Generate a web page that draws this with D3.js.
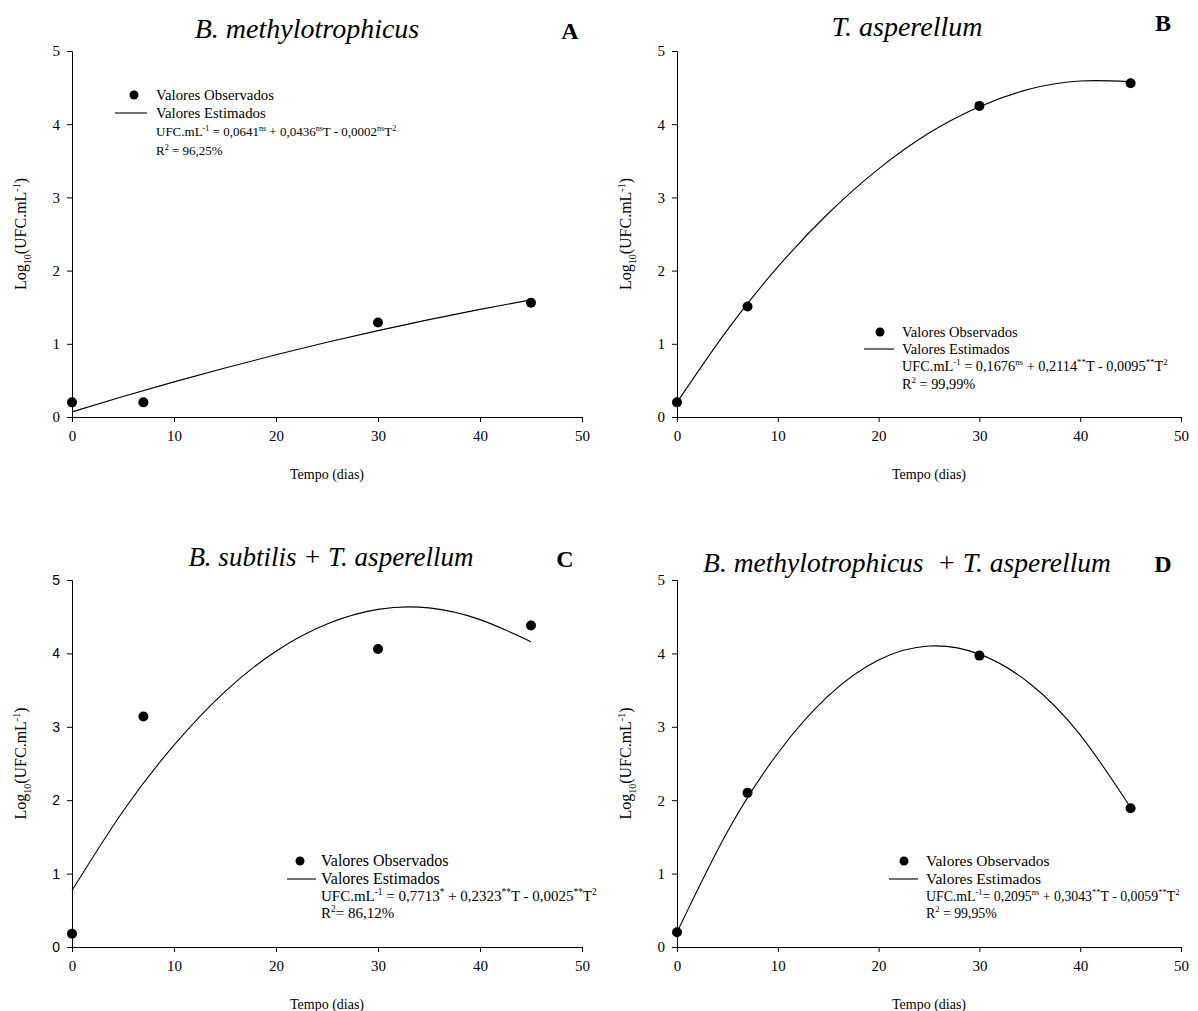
<!DOCTYPE html>
<html>
<head>
<meta charset="utf-8">
<script src="https://cdn.jsdelivr.net/npm/d3@7"></script>
<style>
  body { margin: 0; background: #fff; }
  svg { display: block; font-family: "Liberation Serif", "Times New Roman", serif; }
</style>
</head>
<body>
<svg id="chart" width="1198" height="1011"></svg>
<script>
// data
var xTicks = [0, 10, 20, 30, 40, 50];
var yTicks = [0, 1, 2, 3, 4, 5];
var tempo = [0, 7, 30, 45];
var obsA = [0.20, 0.20, 1.29, 1.56];
var obsB = [0.20, 1.51, 4.25, 4.56];
var obsC = [0.18, 3.14, 4.06, 4.38];
var obsD = [0.20, 2.10, 3.97, 1.89];
var curveT = [0, 5, 10, 15, 20, 25, 30, 35, 40, 45];
var estA = [0.07, 0.28, 0.48, 0.67, 0.85, 1.02, 1.18, 1.33, 1.47, 1.60];
var estB = [0.20, 1.19, 2.05, 2.78, 3.39, 3.88, 4.24, 4.48, 4.59, 4.58];
var estC = [0.77, 1.85, 2.75, 3.48, 4.03, 4.40, 4.60, 4.62, 4.46, 4.16];
var estD = [0.20, 1.57, 2.64, 3.42, 3.91, 4.10, 3.99, 3.59, 2.89, 1.90];
var titles = ["B. methylotrophicus", "T. asperellum", "B. subtilis + T. asperellum", "B. methylotrophicus  + T. asperellum"];
var letters = ["A", "B", "C", "D"];
var equations = [
  [["UFC.mL"], ["-1", "sup"], [" = 0,0641"], ["ns", "sup"], [" + 0,0436"], ["ns", "sup"], ["T - 0,0002"], ["ns", "sup"], ["T"], ["2", "sup"]],
  [["UFC.mL"], ["-1", "sup"], [" = 0,1676"], ["ns", "sup"], [" + 0,2114"], ["**", "sup"], ["T - 0,0095"], ["**", "sup"], ["T"], ["2", "sup"]],
  [["UFC.mL"], ["-1", "sup"], [" = 0,7713"], ["*", "sup"], [" + 0,2323"], ["**", "sup"], ["T - 0,0025"], ["**", "sup"], ["T"], ["2", "sup"]],
  [["UFC.mL"], ["-1", "sup"], ["= 0,2095"], ["ns", "sup"], [" + 0,3043"], ["**", "sup"], ["T - 0,0059"], ["**", "sup"], ["T"], ["2", "sup"]]
];
var r2Labels = [
  [["R"], ["2", "sup"], [" = 96,25%"]],
  [["R"], ["2", "sup"], [" = 99,99%"]],
  [["R"], ["2", "sup"], ["= 86,12%"]],
  [["R"], ["2", "sup"], [" = 99,95%"]]
];

var svg = d3.select("#chart");

// layout of the four panels
var panels = [
  { obs: obsA, est: estA, left: 72, right: 582, top: 51, bottom: 417, sansY: false,
    titleX: 307, titleY: 38, titleSize: 28, letterX: 570, letterY: 39,
    leg: { dotX: 134, lineX1: 115, lineX2: 147, textX: 156, rows: [95, 113, 131, 150], size: 14.8, eqSize: 13 } },
  { obs: obsB, est: estB, left: 677, right: 1181, top: 51, bottom: 417, sansY: false,
    titleX: 907, titleY: 36, titleSize: 28, letterX: 1163, letterY: 31,
    leg: { dotX: 880, lineX1: 864, lineX2: 894, textX: 902, rows: [332, 349, 366, 384], size: 14.5, eqSize: 14.3 } },
  { obs: obsC, est: estC, left: 72, right: 582, top: 580, bottom: 947, sansY: true,
    titleX: 331, titleY: 566, titleSize: 27, letterX: 565, letterY: 567,
    leg: { dotX: 300, lineX1: 287, lineX2: 316, textX: 321, rows: [861, 879, 896, 913], size: 16, eqSize: 15 } },
  { obs: obsD, est: estD, left: 677, right: 1181, top: 580, bottom: 947, sansY: false,
    titleX: 907, titleY: 572, titleSize: 27.5, letterX: 1163, letterY: 572,
    leg: { dotX: 904, lineX1: 889, lineX2: 918, textX: 926, rows: [861, 879, 896, 913], size: 15.5, eqSize: 13.8 } }
];

function richText(g, x, y, parts, size) {
  var t = g.append("text").attr("x", x).attr("y", y).attr("font-size", size).attr("fill", "#000");
  var shift = 0;
  parts.forEach(function (p) {
    var ts = t.append("tspan").text(p[0]);
    var target = p[1] == "sup" ? -size * 0.4 : (p[1] == "sub" ? size * 0.3 : 0);
    if (target != shift) ts.attr("dy", target - shift);
    if (p[1]) ts.attr("font-size", size * 0.62);
    shift = target;
  });
  return t;
}

panels.forEach(function (p, i) {
  var g = svg.append("g");
  var x = d3.scaleLinear().domain([0, 50]).range([p.left, p.right]);
  var y = d3.scaleLinear().domain([0, 5]).range([p.bottom, p.top]);

  g.append("g")
    .attr("transform", "translate(0," + p.bottom + ")")
    .call(d3.axisBottom(x).tickValues(xTicks).tickSize(5).tickPadding(8))
    .attr("font-family", "Liberation Serif")
    .attr("font-size", 15);

  g.append("g")
    .attr("transform", "translate(" + p.left + ",0)")
    .call(d3.axisLeft(y).tickValues(yTicks).tickFormat(d3.format("d")).tickSize(5).tickPadding(7))
    .attr("font-family", p.sansY ? "Liberation Sans" : "Liberation Serif")
    .attr("font-size", p.sansY ? 14 : 15);
  g.selectAll(".tick text").attr("fill", "#000");
  g.selectAll(".domain").attr("stroke", "#000");
  g.selectAll(".tick line").attr("stroke", "#000");

  // fitted curve
  var line = d3.line()
    .x(function (d, j) { return x(curveT[j]); })
    .y(function (d) { return y(d); })
    .curve(d3.curveNatural);
  g.append("path").datum(p.est)
    .attr("d", line)
    .attr("fill", "none")
    .attr("stroke", "#000")
    .attr("stroke-width", 1.1);

  g.selectAll("circle.obs")
    .data(p.obs)
    .enter().append("circle")
    .attr("class", "obs")
    .attr("cx", function (d, j) { return x(tempo[j]); })
    .attr("cy", function (d) { return y(d); })
    .attr("r", 5)
    .attr("fill", "#000");

  // titles
  g.append("text").attr("x", p.titleX).attr("y", p.titleY)
    .attr("text-anchor", "middle").attr("font-size", p.titleSize).attr("font-style", "italic")
    .style("white-space", "pre")
    .text(titles[i]);
  g.append("text").attr("x", p.letterX).attr("y", p.letterY)
    .attr("text-anchor", "middle").attr("font-size", 24).attr("font-weight", "bold")
    .text(letters[i]);

  g.append("text")
    .attr("x", (p.left + p.right) / 2).attr("y", p.bottom + 62)
    .attr("text-anchor", "middle").attr("font-size", 14)
    .text("Tempo (dias)");

  var yl = richText(g, 0, 0, [["Log"], ["10", "sub"], ["(UFC.mL"], ["-1", "sup"], [")"]], 16);
  yl.attr("text-anchor", "middle")
    .attr("transform", "translate(" + (p.left - 46) + "," + (p.top + p.bottom) / 2 + ") rotate(-90)");

  // legend
  var L = p.leg;
  g.append("circle").attr("cx", L.dotX).attr("cy", L.rows[0]).attr("r", 4.5).attr("fill", "#000");
  g.append("text").attr("x", L.textX).attr("y", L.rows[0] + 5).attr("font-size", L.size).text("Valores Observados");
  g.append("line").attr("x1", L.lineX1).attr("x2", L.lineX2).attr("y1", L.rows[1]).attr("y2", L.rows[1])
    .attr("stroke", "#000").attr("stroke-width", 1.1);
  g.append("text").attr("x", L.textX).attr("y", L.rows[1] + 5).attr("font-size", L.size).text("Valores Estimados");
  richText(g, L.textX, L.rows[2] + 5, equations[i], L.eqSize);
  richText(g, L.textX, L.rows[3] + 5, r2Labels[i], L.eqSize);
});
</script>
</body>
</html>
